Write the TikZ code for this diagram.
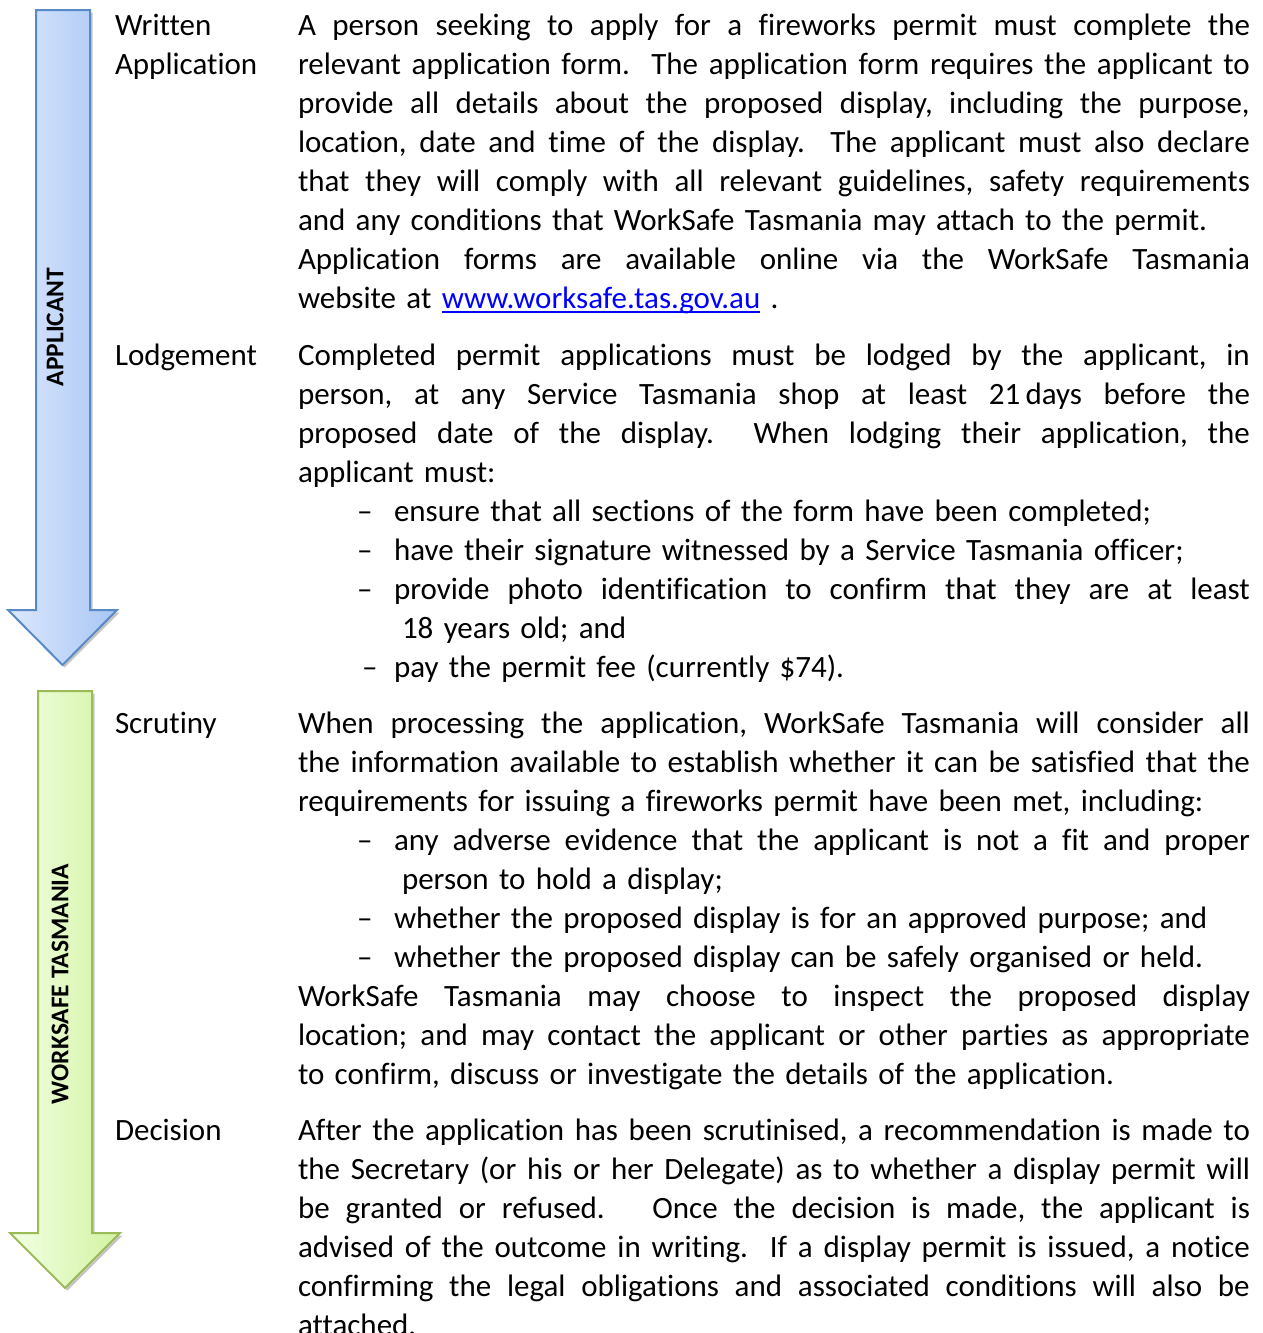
\documentclass[tikz,border=0pt]{standalone}
\usepackage{fontspec}
\setmainfont{Carlito}[Ligatures=NoCommon]
\frenchspacing
\definecolor{blueborder}{HTML}{5A8AC6}
\definecolor{blueL}{HTML}{DCE8FE}
\definecolor{blueR}{HTML}{A8C6F4}
\definecolor{greenborder}{HTML}{9BBB59}
\definecolor{greenL}{HTML}{F2FFE5}
\definecolor{greenR}{HTML}{D2F3A0}
\definecolor{linkblue}{HTML}{0000FF}
\newcommand\jl[1]{\hbox to \hsize{\spaceskip=\fontdimen2\font plus 1fil minus 0.3\fontdimen2\font\relax\xspaceskip=\spaceskip #1}}
\newcommand\nl[1]{\hbox{#1}}
\newcommand\ulink[1]{{\color{linkblue}\setbox0\hbox{#1}\rlap{\rule[-5pt]{\wd0}{2pt}}\box0}}
\tikzset{
  body/.style={anchor=base west, inner sep=0pt, outer sep=0pt, text width=#1,
    font=\fontsize{31}{39}\selectfont},
  body/.default=952pt,
  dashmark/.style={anchor=base west, inner sep=0pt, outer sep=0pt,
    font=\fontsize{31}{39}\selectfont},
  sidelabel/.style={rotate=90, inner sep=0pt, font=\bfseries\fontsize{25.5}{30}\selectfont},
  shadowpath/.style={fill=black!45, opacity=0.5},
}
\begin{document}
\begin{tikzpicture}[x=1pt,y=-1pt]
\useasboundingbox (0,0) rectangle (1263,1333);
\clip (0,0) rectangle (1263,1333);
% arrows
\path[shadowpath] ([shift={(2.5,2.5)}]36,10) -- ++(54,0) -- ++(0,600) -- ++(27,0) -- ++(-55,55) -- ++(-54,-55) -- ++(28,0) -- cycle;
\draw[blueborder, line width=2pt, line join=miter, left color=blueL, right color=blueR]
  (36,10) -- (90,10) -- (90,610) -- (117,610) -- (62.5,665) -- (8,610) -- (36,610) -- cycle;
\path[shadowpath] ([shift={(2.5,2.5)}]38,691) -- ++(54,0) -- ++(0,542) -- ++(28,0) -- ++(-55,55) -- ++(-55,-55) -- ++(28,0) -- cycle;
\draw[greenborder, line width=2pt, line join=miter, left color=greenL, right color=greenR]
  (38,691) -- (92,691) -- (92,1233) -- (120,1233) -- (65,1288) -- (10,1233) -- (38,1233) -- cycle;
\node[sidelabel] (applicant) at (55,327) {APPLICANT};
\node[sidelabel] (worksafe) at (60,984) {WORKSAFE TASMANIA};
% labels
\node[body=170pt] (lwritten) at (115,35) {\nl{Written}};
\node[body=170pt] (lapplic) at (115,74) {\nl{Application}};
\node[body=170pt] (llodge) at (115,365) {\nl{Lodgement}};
\node[body=170pt] (lscrut) at (115,733) {\nl{Scrutiny}};
\node[body=170pt] (ldecis) at (115,1140) {\nl{Decision}};
% written application
\node[body] (p1) at (298,35) {%
\jl{A person seeking to apply for a fireworks permit must complete the}
\jl{relevant application form.\ \ The application form requires the applicant to}
\jl{provide all details about the proposed display, including the purpose,}
\jl{location, date and time of the display.\ \ The applicant must also declare}
\jl{that they will comply with all relevant guidelines, safety requirements}
\nl{and any conditions that WorkSafe Tasmania may attach to the permit.}
\jl{Application forms are available online via the WorkSafe Tasmania}
\nl{website at \ulink{www.worksafe.tas.gov.au} .}};
% lodgement
\node[body] (p2) at (298,365) {%
\jl{Completed permit applications must be lodged by the applicant, in}
\jl{person, at any Service Tasmania shop at least 21\,days before the}
\jl{proposed date of the display.\ \ When lodging their application, the}
\nl{applicant must:}};
\node[dashmark] (d1) at (357,521) {–};
\node[body=856pt] (b1) at (394,521) {\nl{ensure that all sections of the form have been completed;}};
\node[dashmark] (d2) at (357,560) {–};
\node[body=856pt] (b2) at (394,560) {\nl{have their signature witnessed by a Service Tasmania officer;}};
\node[dashmark] (d3) at (357,599) {–};
\node[body=856pt] (b3) at (394,599) {\jl{provide photo identification to confirm that they are at least}};
\node[body=848pt] (b3b) at (402,638) {\nl{18 years old; and}};
\node[dashmark] (d4) at (362,677) {–};
\node[body=856pt] (b4) at (394,677) {\nl{pay the permit fee (currently \$74).}};
% scrutiny
\node[body] (p3) at (298,733) {%
\jl{When processing the application, WorkSafe Tasmania will consider all}
\jl{the information available to establish whether it can be satisfied that the}
\nl{requirements for issuing a fireworks permit have been met, including:}};
\node[dashmark] (d5) at (357,850) {–};
\node[body=856pt] (b5) at (394,850) {\jl{any adverse evidence that the applicant is not a fit and proper}};
\node[body=848pt] (b5b) at (402,889) {\nl{person to hold a display;}};
\node[dashmark] (d6) at (357,928) {–};
\node[body=856pt] (b6) at (394,928) {\nl{whether the proposed display is for an approved purpose; and}};
\node[dashmark] (d7) at (357,967) {–};
\node[body=856pt] (b7) at (394,967) {\nl{whether the proposed display can be safely organised or held.}};
\node[body] (p3b) at (298,1006) {%
\jl{WorkSafe Tasmania may choose to inspect the proposed display}
\jl{location; and may contact the applicant or other parties as appropriate}
\nl{to confirm, discuss or investigate the details of the application.}};
% decision
\node[body] (p4) at (298,1140) {%
\jl{After the application has been scrutinised, a recommendation is made to}
\jl{the Secretary (or his or her Delegate) as to whether a display permit will}
\jl{be granted or refused.\ \ \ Once the decision is made, the applicant is}
\jl{advised of the outcome in writing.\ \ If a display permit is issued, a notice}
\jl{confirming the legal obligations and associated conditions will also be}
\nl{attached.}};
\end{tikzpicture}
\end{document}
